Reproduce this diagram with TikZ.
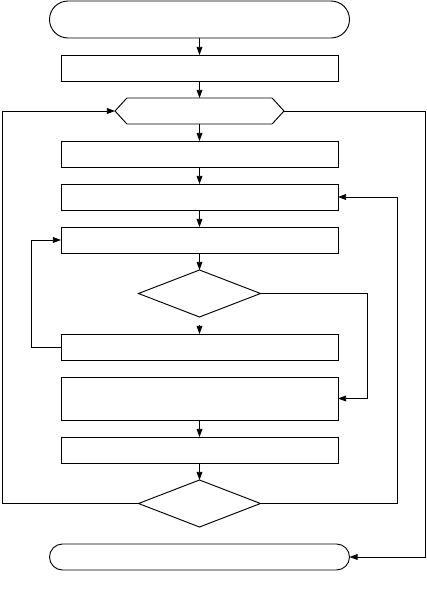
\documentclass[tikz,border=0pt]{standalone}
\usetikzlibrary{arrows.meta, positioning, shapes.geometric, shapes.misc, shapes.symbols}

\begin{document}
\begin{tikzpicture}[
    box/.style={draw, minimum width=8.31cm, minimum height=0.78cm, inner sep=0pt, outer sep=0pt},
    term/.style={draw, rounded rectangle, minimum width=9cm, minimum height=0.78cm, inner sep=0pt, outer sep=0pt},
    test/.style={draw, diamond, minimum width=3.66cm, minimum height=1.41cm, inner sep=0pt, outer sep=0pt},
    loophead/.style={draw, signal, signal to=west and east, signal pointer angle=95, minimum width=5.07cm, minimum height=0.78cm, inner sep=0pt, outer sep=0pt},
    arr/.style={-{Triangle[length=7pt, width=5pt]}},
    node distance=0.51cm,
    line width=0.8pt
]
    \useasboundingbox (-5.985,0.585) rectangle (6.795,-17.205);

    \node[term, minimum height=1.11cm] (start) {};
    \node[box, below=of start] (init) {};
    \node[loophead, below=of init] (loop) {};
    \node[box, below=of loop] (prep) {};
    \node[box, below=of prep] (outer) {};
    \node[box, below=of outer] (inner) {};
    \node[test, below=of inner] (check) {};
    \node[box, below=of check] (retry) {};
    \node[box, below=of retry, minimum height=1.29cm] (update) {};
    \node[box, below=of update] (store) {};
    \node[test, below=of store] (done) {};
    \node[term, below=of done] (stop) {};

    % main line
    \draw[arr] (start) -- (init);
    \draw[arr] (init) -- (loop);
    \draw[arr] (loop) -- (prep);
    \draw[arr] (prep) -- (outer);
    \draw[arr] (outer) -- (inner);
    \draw[arr] (inner) -- (check);
    \draw[arr, shorten <=0.24cm] (check) -- (retry);
    \draw[arr] (update) -- (store);
    \draw[arr] (store) -- (done);

    % loops
    \draw[arr] (retry.west) -- ++(-0.9,0) |- (inner.west);
    \draw[arr] (check.east) -- ++(3.21,0) |- (update.east);
    \draw[arr] (done.east) -- ++(4.1,0) |- (outer.east);
    \draw[arr] (done.west) -- ++(-4.08,0) |- (loop.west);
    \draw[arr] (loop.east) -- ++(4.23,0) |- (stop.east);
\end{tikzpicture}
\end{document}
